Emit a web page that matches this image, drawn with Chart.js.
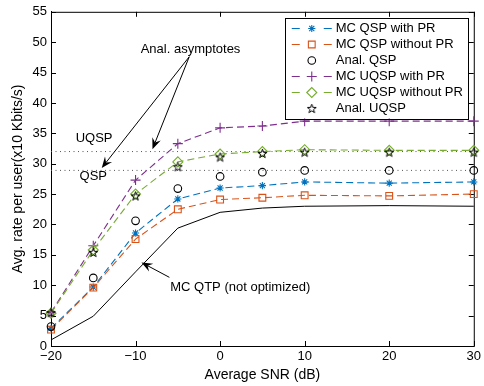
<!DOCTYPE html>
<html>
<head>
<meta charset="utf-8">
<script src="https://cdn.jsdelivr.net/npm/chart.js@4.4.1/dist/chart.umd.min.js"></script>
<style>
  html, body { margin: 0; padding: 0; background: #fff; }
  canvas { display: block; }
</style>
</head>
<body>
<canvas id="chart" width="484" height="386"></canvas>
<script>
// SNR points (dB)
const snr = [-20, -15, -10, -5, 0, 5, 10, 20, 30];

// avg. rate per user (x10 Kbits/s)
const mcQspPr = [2.9, 9.7, 18.6, 24.2, 26.0, 26.4, 27.0, 26.8, 27.0];
const mcQspNoPr = [2.7, 9.6, 17.6, 22.5, 24.1, 24.4, 24.8, 24.7, 25.0];
const analQsp = [3.2, 11.2, 20.6, 25.9, 27.9, 28.6, 28.9, 28.9, 28.9];
const mcUqspPr = [5.5, 16.5, 27.3, 33.3, 35.9, 36.2, 37.0, 37.0, 37.0];
const mcUqspNoPr = [5.4, 15.8, 25.0, 30.3, 31.6, 32.0, 32.3, 32.2, 32.2];
const analUqsp = [5.5, 15.4, 24.7, 29.5, 31.1, 31.7, 31.9, 31.9, 31.9];
const mcQtp = [1.0, 4.9, 12.2, 19.4, 22.0, 22.7, 23.0, 23.1, 23.0];

// analytical asymptotes
const asymQsp = 28.9;
const asymUqsp = 32.0;

const xTicks = [-20, -10, 0, 10, 20, 30];
const yTicks = [0, 5, 10, 15, 20, 25, 30, 35, 40, 45, 50, 55];

// annotation text and arrows, in data units
const notes = [
  { text: 'Anal. asymptotes', x: -3.5, y: 48.8, align: 'center' },
  { text: 'UQSP', x: -14.9, y: 34.2, align: 'center' },
  { text: 'QSP', x: -15.0, y: 27.9, align: 'center' },
  { text: 'MC QTP (not optimized)', x: -5.9, y: 9.65, align: 'left' }
];
const arrows = [
  [-3.65, 47.6, -14.0, 29.3],
  [-3.65, 47.6, -8.0, 32.4],
  [-6.0, 11.3, -9.3, 13.75]
];

const FONT = "'Liberation Sans', Arial, Helvetica, sans-serif";
const BLUE = 'rgb(0,114,189)';
const ORANGE = 'rgb(217,83,25)';
const PURPLE = 'rgb(126,47,142)';
const GREEN = 'rgb(119,172,48)';

// pentagram marker
const pentagram = document.createElement('canvas');
pentagram.width = 11;
pentagram.height = 11;
(function () {
  const c = pentagram.getContext('2d');
  c.strokeStyle = '#000';
  c.lineWidth = 1;
  c.beginPath();
  for (let i = 0; i < 10; i++) {
    const r = i % 2 === 0 ? 4.7 : 1.9;
    const a = -Math.PI / 2 + i * Math.PI / 5;
    const px = 5.5 + r * Math.cos(a);
    const py = 5.9 + r * Math.sin(a);
    if (i === 0) c.moveTo(px, py); else c.lineTo(px, py);
  }
  c.closePath();
  c.stroke();
})();

const toPts = (ys) => snr.map((x, i) => ({ x: x, y: ys[i] }));

function series(label, ys, color, style, radius, showLine, dash) {
  return {
    label: label,
    data: toPts(ys),
    borderColor: color,
    backgroundColor: 'rgba(0,0,0,0)',
    pointBackgroundColor: 'rgba(0,0,0,0)',
    pointBorderColor: color,
    pointStyle: style,
    pointRadius: radius,
    pointBorderWidth: 1.1,
    borderWidth: 1.1,
    borderDash: dash || [],
    showLine: showLine,
    clip: false,
    inLegend: true
  };
}

const datasets = [
  {
    label: 'asym QSP', data: [{ x: -20, y: asymQsp }, { x: 30, y: asymQsp }],
    borderColor: '#555', borderWidth: 1, borderDash: [1, 3.5], pointRadius: 0, showLine: true
  },
  {
    label: 'asym UQSP', data: [{ x: -20, y: asymUqsp }, { x: 30, y: asymUqsp }],
    borderColor: '#555', borderWidth: 1, borderDash: [1, 3.5], pointRadius: 0, showLine: true
  },
  {
    label: 'MC QTP', data: toPts(mcQtp), borderColor: '#000', borderWidth: 1,
    pointRadius: 0, showLine: true, clip: false
  },
  series('MC QSP with PR', mcQspPr, BLUE, 'star', 3.6, true, [7, 4]),
  series('MC QSP without PR', mcQspNoPr, ORANGE, 'rect', 4.8, true, [7, 4]),
  series('Anal. QSP', analQsp, '#000', 'circle', 3.8, false),
  series('MC UQSP with PR', mcUqspPr, PURPLE, 'cross', 5, true, [7, 4]),
  series('MC UQSP without PR', mcUqspNoPr, GREEN, 'rectRot', 5, true, [7, 4]),
  series('Anal. UQSP', analUqsp, '#000', pentagram, 5, false)
];
datasets.forEach((d, i) => { d.order = 20 - i; });

// box, inside tick marks
const framePlugin = {
  id: 'frame',
  beforeDatasetsDraw(chart) {
    const { ctx, chartArea: a, scales } = chart;
    ctx.save();
    ctx.strokeStyle = '#000';
    ctx.lineWidth = 1;
    ctx.strokeRect(a.left + 0.5, a.top + 0.5, a.right - a.left, a.bottom - a.top);
    ctx.beginPath();
    xTicks.forEach(v => {
      const px = Math.round(scales.x.getPixelForValue(v)) + 0.5;
      ctx.moveTo(px, a.bottom); ctx.lineTo(px, a.bottom - 5);
      ctx.moveTo(px, a.top); ctx.lineTo(px, a.top + 5);
    });
    yTicks.forEach(v => {
      const py = Math.round(scales.y.getPixelForValue(v)) + 0.5;
      ctx.moveTo(a.left, py); ctx.lineTo(a.left + 5, py);
      ctx.moveTo(a.right, py); ctx.lineTo(a.right - 5, py);
    });
    ctx.stroke();
    ctx.restore();
  }
};

function drawArrow(ctx, x1, y1, x2, y2) {
  const ang = Math.atan2(y2 - y1, x2 - x1);
  const len = 11, half = 4.5, notch = 7;
  ctx.beginPath();
  ctx.moveTo(x1, y1);
  ctx.lineTo(x2 - notch * Math.cos(ang), y2 - notch * Math.sin(ang));
  ctx.stroke();
  const bx = x2 - len * Math.cos(ang), by = y2 - len * Math.sin(ang);
  const nx = -Math.sin(ang), ny = Math.cos(ang);
  ctx.beginPath();
  ctx.moveTo(x2, y2);
  ctx.lineTo(bx + nx * half, by + ny * half);
  ctx.lineTo(x2 - notch * Math.cos(ang), y2 - notch * Math.sin(ang));
  ctx.lineTo(bx - nx * half, by - ny * half);
  ctx.closePath();
  ctx.fill();
}

const notesPlugin = {
  id: 'notes',
  afterDatasetsDraw(chart) {
    const { ctx, scales } = chart;
    const X = v => scales.x.getPixelForValue(v);
    const Y = v => scales.y.getPixelForValue(v);
    ctx.save();
    ctx.fillStyle = '#000';
    ctx.strokeStyle = '#000';
    ctx.lineWidth = 1;
    ctx.font = '13px ' + FONT;
    ctx.textBaseline = 'middle';
    notes.forEach(n => {
      ctx.textAlign = n.align;
      ctx.fillText(n.text, X(n.x), Y(n.y));
    });
    arrows.forEach(a => drawArrow(ctx, X(a[0]), Y(a[1]), X(a[2]), Y(a[3])));
    ctx.restore();
  }
};

const legendPlugin = {
  id: 'boxLegend',
  afterDraw(chart) {
    const { ctx, chartArea: a } = chart;
    const items = chart.data.datasets.filter(d => d.inLegend);
    const w = 183, rowH = 16.1;
    const left = a.right - 6 - w, top = a.top + 6;
    const h = items.length * rowH + 4;
    ctx.save();
    ctx.fillStyle = '#fff';
    ctx.fillRect(left, top, w, h);
    ctx.strokeStyle = '#000';
    ctx.lineWidth = 1;
    ctx.strokeRect(Math.round(left) + 0.5, Math.round(top) + 0.5, w, Math.round(h));
    ctx.font = '13px ' + FONT;
    ctx.textBaseline = 'middle';
    ctx.textAlign = 'left';
    items.forEach((d, i) => {
      const y = Math.round(top + 10 + i * rowH) + 0.5;
      const mx = left + 27;
      if (d.showLine) {
        ctx.strokeStyle = d.borderColor;
        ctx.lineWidth = 1.1;
        ctx.beginPath();
        ctx.moveTo(left + 7, y); ctx.lineTo(left + 15, y);
        ctx.moveTo(left + 39, y); ctx.lineTo(left + 47, y);
        ctx.stroke();
      }
      ctx.strokeStyle = d.pointBorderColor;
      ctx.fillStyle = 'rgba(0,0,0,0)';
      ctx.lineWidth = 1.1;
      Chart.helpers.drawPoint(ctx, {
        pointStyle: d.pointStyle, radius: d.pointRadius, rotation: 0, borderWidth: 1.1
      }, mx, y);
      ctx.fillStyle = '#000';
      ctx.fillText(d.label, left + 51, y);
    });
    ctx.restore();
  }
};

const minus = v => String(v).replace('-', '\u2212');

new Chart(document.getElementById('chart').getContext('2d'), {
  type: 'line',
  data: { datasets: datasets },
  options: {
    responsive: false,
    animation: false,
    devicePixelRatio: 1,
    layout: { padding: { top: 10, right: 8, left: 0, bottom: 0 } },
    plugins: { legend: { display: false }, tooltip: { enabled: false } },
    elements: { line: { tension: 0 } },
    scales: {
      x: {
        type: 'linear', min: -20, max: 30,
        afterFit: s => { s.height = 40; },
        afterBuildTicks: s => { s.ticks = xTicks.map(v => ({ value: v })); },
        ticks: { color: '#000', font: { family: FONT, size: 13 }, padding: 3, maxRotation: 0, callback: minus },
        grid: { display: false, drawTicks: false },
        border: { display: true, color: '#000' },
        title: { display: true, text: 'Average SNR (dB)', color: '#000', font: { family: FONT, size: 14 }, padding: { top: 0, bottom: 2 } }
      },
      y: {
        type: 'linear', min: 0, max: 55,
        afterFit: s => { s.width = 51; },
        afterBuildTicks: s => { s.ticks = yTicks.map(v => ({ value: v })); },
        ticks: { color: '#000', font: { family: FONT, size: 13 }, padding: 4 },
        grid: { display: false, drawTicks: false },
        border: { display: true, color: '#000' },
        title: { display: true, text: 'Avg. rate per user(x10 Kbits/s)', color: '#000', font: { family: FONT, size: 14 }, padding: { top: 10, bottom: 0 } }
      }
    }
  },
  plugins: [framePlugin, notesPlugin, legendPlugin]
});
</script>
</body>
</html>
